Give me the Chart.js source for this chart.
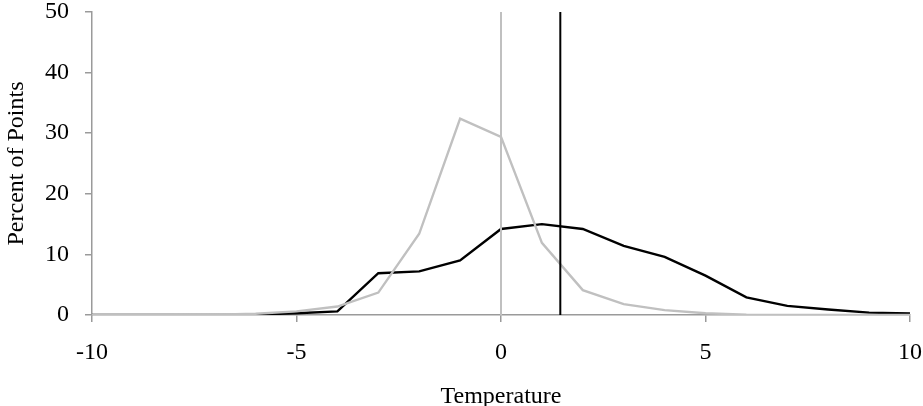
<!DOCTYPE html>
<html>
<head>
<meta charset="utf-8">
<script src="https://cdn.jsdelivr.net/npm/chart.js@4"></script>
<style>
html,body{margin:0;padding:0;background:#fff;overflow:hidden;}
canvas{display:block;}
</style>
</head>
<body>
<canvas id="c" width="923" height="420"></canvas>
<script>
const temperatures = [-10,-9,-8,-7,-6,-5,-4,-3,-2,-1,0,1,2,3,4,5,6,7,8,9,10];
const graySeries  = [0,0,0,0.05,0.2,0.6,1.4,3.7,13.4,32.4,29.4,11.9,4.1,1.8,0.8,0.3,0.05,0,0,0,0];
const blackSeries = [0,0,0,0,0.05,0.3,0.6,6.9,7.2,9.0,14.2,15.0,14.2,11.4,9.6,6.5,2.9,1.5,0.9,0.4,0.25];
const grayMean = 0;
const blackMean = 1.45;
const xTicks = [-10,-5,0,5,10];
const yTicks = [0,10,20,30,40,50];

const FONT = {family: "'Liberation Serif','Times New Roman',serif", size: 24};
const GRAY = '#c0c0c0';
const AXIS = '#9a9a9a';

const toPts = arr => arr.map((v,i)=>({x: temperatures[i], y: v}));
const vline = xv => [{x: xv, y: yTicks[0]}, {x: xv, y: yTicks[yTicks.length-1]}];

new Chart(document.getElementById('c'), {
  type: 'line',
  data: {
    datasets: [
      {data: vline(grayMean), borderColor: GRAY, borderWidth: 2, pointRadius: 0, tension: 0},
      {data: vline(blackMean), borderColor: '#000', borderWidth: 2, pointRadius: 0, tension: 0},
      {data: toPts(graySeries), borderColor: GRAY, borderWidth: 2.4, pointRadius: 0, tension: 0},
      {data: toPts(blackSeries), borderColor: '#000', borderWidth: 2.4, pointRadius: 0, tension: 0}
    ]
  },
  options: {
    responsive: false,
    animation: false,
    devicePixelRatio: 1,
    layout: {padding: 0},
    plugins: {legend: {display: false}, tooltip: {enabled: false}},
    scales: {
      x: {
        type: 'linear',
        min: -10, max: 10,
        afterBuildTicks: s => { s.ticks = xTicks.map(v=>({value:v})); },
        afterFit: s => { s.height = 105; s.paddingLeft = 0; s.paddingRight = 13; },
        grid: {drawOnChartArea: false, drawTicks: true, tickLength: 7, color: AXIS, lineWidth: 1.5},
        border: {color: AXIS, width: 1.5},
        ticks: {color: '#000', font: FONT, padding: 16, maxRotation: 0},
        title: {display: true, text: 'Temperature', color: '#000', font: FONT, padding: {top: 0, bottom: 9}}
      },
      y: {
        min: 0, max: 50,
        afterBuildTicks: s => { s.ticks = yTicks.map(v=>({value:v})); },
        afterFit: s => { s.width = 92; s.paddingTop = 12; s.paddingBottom = 0; },
        grid: {drawOnChartArea: false, drawTicks: true, tickLength: 7, color: AXIS, lineWidth: 1.5},
        border: {color: AXIS, width: 1.5},
        ticks: {color: '#000', font: FONT, padding: 16},
        title: {display: true, text: 'Percent of Points', color: '#000', font: FONT, padding: {top: 2, bottom: 0}}
      }
    }
  }
});
</script>
</body>
</html>
